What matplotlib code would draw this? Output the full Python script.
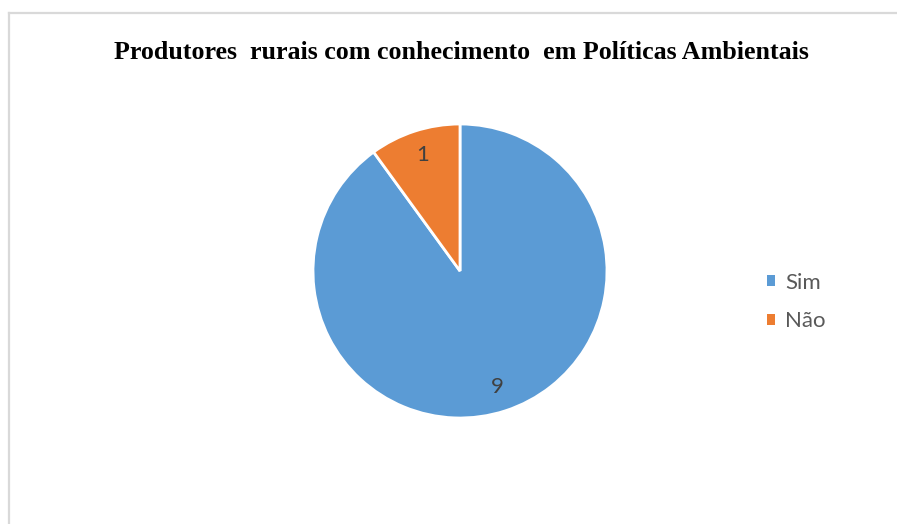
import matplotlib.pyplot as plt
from matplotlib.patches import Patch
from matplotlib.lines import Line2D

labels = ['Sim', 'Não']
values = [9, 1]
colors = ['#5B9BD5', '#ED7D31']

W, H = 897, 524
fig = plt.figure(figsize=(W / 100, H / 100), dpi=100)

# chart border (only top and left visible in the reference)
fig.add_artist(Line2D([8.5 / W, 1.01], [1 - 12.5 / H, 1 - 12.5 / H], color='#D9D9D9', lw=1.6, transform=fig.transFigure))
fig.add_artist(Line2D([8.5 / W, 8.5 / W], [1 - 12.5 / H, -0.01], color='#D9D9D9', lw=1.6, transform=fig.transFigure))

fig.text(461 / W, 1 - 59 / H, 'Produtores  rurais com conhecimento  em Políticas Ambientais',
         ha='center', va='baseline', fontsize=18.7, fontweight='bold', family='Liberation Serif')

cx, cy, r = 460, 271, 147
ax = fig.add_axes([(cx - r) / W, 1 - (cy + r) / H, 2 * r / W, 2 * r / H])
wedges, texts = ax.pie(values, labels=[str(v) for v in values], colors=colors,
                       startangle=90, counterclock=False, labeldistance=0.83,
                       wedgeprops=dict(edgecolor='white', linewidth=2),
                       textprops=dict(color='#404040', fontsize=16, family='Lato'))
for t in texts:
    t.set_ha('center')
    t.set_va('center')
ax.set_xlim(-1, 1)
ax.set_ylim(-1, 1)
ax.set_aspect('equal')

handles = [Patch(facecolor=c, edgecolor='none') for c in colors]
fig.legend(handles, labels, loc='center left', bbox_to_anchor=(767 / W, 1 - 302 / H),
           frameon=False, borderpad=0, borderaxespad=0,
           handlelength=0.38, handleheight=0.38, handletextpad=0.45,
           labelspacing=0.83, prop=dict(family='Lato', size=16), labelcolor='#595959')

fig.savefig('out.png', dpi=100)
